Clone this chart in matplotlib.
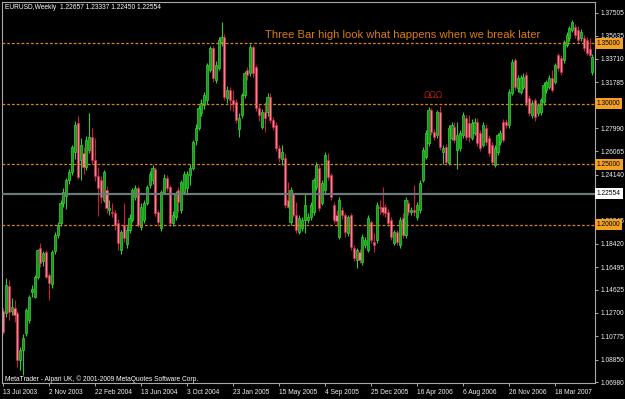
import matplotlib
matplotlib.use("Agg")
import matplotlib.pyplot as plt
import matplotlib.transforms as mtransforms
import numpy as np

plt.rcParams['font.family'] = ['Liberation Sans', 'DejaVu Sans']

# EURUSD weekly bars, 13 Jul 2003 .. Jun 2007
opens = [
    1.1286, 1.1270, 1.1495, 1.1285, 1.1310, 1.1270, 1.0881, 1.0960, 1.1104, 1.1212,
    1.1440, 1.1402, 1.1567, 1.1807, 1.1700, 1.1774, 1.1584, 1.1510, 1.1780, 1.1915,
    1.2014, 1.2179, 1.2240, 1.2369, 1.2436, 1.2600, 1.2841, 1.2535, 1.2593, 1.2477,
    1.2618, 1.2725, 1.2535, 1.2400, 1.2369, 1.2204, 1.2287, 1.2121, 1.2105, 1.2097,
    1.2014, 1.1791, 1.1997, 1.1840, 1.1956, 1.2039, 1.2229, 1.2303, 1.1981, 1.2039,
    1.2179, 1.2328, 1.2369, 1.2461, 1.2105, 1.1972, 1.2270, 1.2386, 1.2311, 1.2014,
    1.2063, 1.2287, 1.2121, 1.2270, 1.2300, 1.2410, 1.2469, 1.2700, 1.2799, 1.2923,
    1.2990, 1.3031, 1.3279, 1.3461, 1.3196, 1.3296, 1.3511, 1.3552, 1.3048, 1.3114,
    1.3031, 1.3014, 1.2790, 1.2907, 1.3072, 1.3279, 1.3254, 1.3469, 1.3304, 1.2965,
    1.2808, 1.2932, 1.2932, 1.3056, 1.2866, 1.2824, 1.2634, 1.2540, 1.2551, 1.2200,
    1.2022, 1.2250, 1.2080, 1.1939, 1.1972, 1.2039, 1.2039, 1.2063, 1.2105, 1.2311,
    1.2469, 1.2179, 1.2287, 1.2535, 1.2411, 1.2163, 1.2080, 1.1898, 1.2121, 1.2080,
    1.1931, 1.2080, 1.1807, 1.1708, 1.1774, 1.1691, 1.1830, 1.1791, 1.2022, 1.1857,
    1.1873, 1.2146, 1.2146, 1.2146, 1.2105, 1.2039, 1.1848, 1.1939, 1.1832, 1.2055,
    1.1915, 1.2179, 1.2105, 1.2121, 1.2063, 1.2121, 1.2369, 1.2560, 1.2675, 1.2948,
    1.2766, 1.2742, 1.2932, 1.2601, 1.2642, 1.2510, 1.2717, 1.2808, 1.2618, 1.2634,
    1.2742, 1.2882, 1.2841, 1.2717, 1.2758, 1.2849, 1.2758, 1.2659, 1.2799, 1.2717,
    1.2659, 1.2493, 1.2601, 1.2684, 1.2849, 1.2849, 1.2824, 1.3089, 1.3362, 1.3130,
    1.3097, 1.3138, 1.3238, 1.3048, 1.2907, 1.3031, 1.2923, 1.2932, 1.3014, 1.3114,
    1.3138, 1.3213, 1.3180, 1.3403, 1.3378, 1.3362, 1.3486, 1.3544, 1.3610, 1.3635,
    1.3610, 1.3544, 1.3544, 1.3527, 1.3450, 1.3263,
]
highs = [
    1.1311, 1.1557, 1.1540, 1.1395, 1.1375, 1.1290, 1.0990, 1.1100, 1.1310, 1.1420,
    1.1500, 1.1580, 1.1800, 1.1850, 1.1780, 1.1790, 1.1600, 1.1791, 1.1940, 1.2020,
    1.2200, 1.2300, 1.2390, 1.2460, 1.2660, 1.2860, 1.2898, 1.2720, 1.2640, 1.2730,
    1.2923, 1.2800, 1.2717, 1.2480, 1.2400, 1.2450, 1.2320, 1.2200, 1.2180, 1.2120,
    1.2050, 1.1960, 1.2179, 1.1990, 1.2090, 1.2300, 1.2330, 1.2320, 1.2180, 1.2200,
    1.2330, 1.2440, 1.2490, 1.2480, 1.2120, 1.2290, 1.2420, 1.2411, 1.2330, 1.2110,
    1.2280, 1.2310, 1.2370, 1.2440, 1.2440, 1.2500, 1.2700, 1.2830, 1.2990, 1.3040,
    1.3100, 1.3340, 1.3480, 1.3480, 1.3350, 1.3550, 1.3676, 1.3580, 1.3150, 1.3140,
    1.3110, 1.3040, 1.2920, 1.3090, 1.3270, 1.3300, 1.3490, 1.3486, 1.3320, 1.2990,
    1.2960, 1.3014, 1.3090, 1.3090, 1.2890, 1.2850, 1.2660, 1.2660, 1.2590, 1.2353,
    1.2310, 1.2270, 1.2190, 1.2080, 1.2060, 1.2262, 1.2100, 1.2190, 1.2390, 1.2520,
    1.2500, 1.2370, 1.2600, 1.2593, 1.2430, 1.2190, 1.2120, 1.2230, 1.2150, 1.2100,
    1.2080, 1.2100, 1.1830, 1.1810, 1.1800, 1.1920, 1.1900, 1.2080, 1.2040, 1.1931,
    1.2190, 1.2200, 1.2311, 1.2170, 1.2130, 1.2060, 1.1960, 1.1960, 1.2060, 1.2097,
    1.2230, 1.2200, 1.2150, 1.2328, 1.2190, 1.2370, 1.2640, 1.2780, 1.2975, 1.2965,
    1.2790, 1.2950, 1.2981, 1.2660, 1.2670, 1.2820, 1.2850, 1.2849, 1.2849, 1.2780,
    1.2930, 1.2910, 1.2907, 1.2870, 1.2880, 1.2880, 1.2780, 1.2850, 1.2830, 1.2740,
    1.2680, 1.2660, 1.2760, 1.2780, 1.2870, 1.2870, 1.3120, 1.3370, 1.3380, 1.3240,
    1.3240, 1.3250, 1.3260, 1.3070, 1.3030, 1.3050, 1.3010, 1.3050, 1.3180, 1.3200,
    1.3240, 1.3279, 1.3340, 1.3420, 1.3400, 1.3530, 1.3590, 1.3640, 1.3693, 1.3660,
    1.3640, 1.3620, 1.3570, 1.3550, 1.3544, 1.3410,
]
lows = [
    1.1096, 1.1240, 1.1212, 1.1250, 1.1195, 1.0825, 1.0800, 1.0757, 1.1080, 1.1190,
    1.1400, 1.1390, 1.1550, 1.1650, 1.1660, 1.1560, 1.1377, 1.1476, 1.1760, 1.1890,
    1.1990, 1.2150, 1.2130, 1.2340, 1.2410, 1.2540, 1.2380, 1.2369, 1.2420, 1.2450,
    1.2590, 1.2500, 1.2360, 1.2070, 1.2180, 1.2190, 1.2100, 1.2080, 1.2060, 1.1960,
    1.1791, 1.1760, 1.1860, 1.1810, 1.1930, 1.2020, 1.2200, 1.1980, 1.1960, 1.2010,
    1.2160, 1.2300, 1.2340, 1.2070, 1.1990, 1.1950, 1.2250, 1.2280, 1.1990, 1.1990,
    1.2040, 1.2105, 1.2100, 1.2250, 1.2260, 1.2330, 1.2450, 1.2660, 1.2780, 1.2900,
    1.2960, 1.3000, 1.3260, 1.3180, 1.3170, 1.3280, 1.3480, 1.3030, 1.3010, 1.2948,
    1.2940, 1.2840, 1.2725, 1.2880, 1.3050, 1.3200, 1.3230, 1.3220, 1.2940, 1.2860,
    1.2790, 1.2766, 1.2900, 1.2840, 1.2780, 1.2610, 1.2520, 1.2490, 1.2140, 1.2138,
    1.2000, 1.2060, 1.1930, 1.1920, 1.1950, 1.1931, 1.2010, 1.2040, 1.2080, 1.2290,
    1.2110, 1.2160, 1.2260, 1.2370, 1.2200, 1.2010, 1.1990, 1.1880, 1.2050, 1.1900,
    1.1910, 1.1790, 1.1700, 1.1642, 1.1680, 1.1670, 1.1810, 1.1770, 1.1850, 1.1774,
    1.1850, 1.2090, 1.2080, 1.2060, 1.1990, 1.1870, 1.1830, 1.1830, 1.1810, 1.1890,
    1.1890, 1.2080, 1.2080, 1.2070, 1.2040, 1.2100, 1.2350, 1.2540, 1.2650, 1.2740,
    1.2700, 1.2720, 1.2620, 1.2500, 1.2500, 1.2490, 1.2700, 1.2675, 1.2460, 1.2610,
    1.2720, 1.2700, 1.2684, 1.2700, 1.2740, 1.2650, 1.2610, 1.2640, 1.2660, 1.2570,
    1.2500, 1.2480, 1.2580, 1.2660, 1.2680, 1.2800, 1.2800, 1.3070, 1.3110, 1.3100,
    1.3080, 1.3120, 1.2980, 1.2900, 1.2880, 1.2860, 1.2900, 1.2910, 1.2990, 1.3090,
    1.3120, 1.3097, 1.3160, 1.3270, 1.3240, 1.3340, 1.3470, 1.3520, 1.3590, 1.3540,
    1.3500, 1.3520, 1.3440, 1.3400, 1.3387, 1.3240,
]
closes = [
    1.1112, 1.1500, 1.1280, 1.1320, 1.1255, 1.0880, 1.0960, 1.1060, 1.1294, 1.1402,
    1.1470, 1.1567, 1.1791, 1.1683, 1.1766, 1.1567, 1.1517, 1.1774, 1.1915, 1.1997,
    1.2179, 1.2270, 1.2369, 1.2436, 1.2642, 1.2824, 1.2394, 1.2659, 1.2477, 1.2700,
    1.2725, 1.2535, 1.2400, 1.2300, 1.2229, 1.2436, 1.2138, 1.2138, 1.2097, 1.1997,
    1.1848, 1.1939, 1.1890, 1.1956, 1.2055, 1.2287, 1.2303, 1.1997, 1.2146, 1.2179,
    1.2311, 1.2419, 1.2469, 1.2097, 1.2022, 1.2270, 1.2386, 1.2303, 1.2014, 1.2080,
    1.2262, 1.2187, 1.2353, 1.2419, 1.2420, 1.2469, 1.2684, 1.2799, 1.2965, 1.3006,
    1.3072, 1.3320, 1.3461, 1.3213, 1.3320, 1.3527, 1.3552, 1.3056, 1.3114, 1.3031,
    1.3000, 1.2866, 1.2880, 1.3072, 1.3254, 1.3238, 1.3469, 1.3250, 1.2965, 1.2907,
    1.2932, 1.2880, 1.3056, 1.2866, 1.2808, 1.2634, 1.2551, 1.2600, 1.2163, 1.2150,
    1.2287, 1.2080, 1.1956, 1.2055, 1.2039, 1.2163, 1.2063, 1.2163, 1.2369, 1.2493,
    1.2138, 1.2344, 1.2576, 1.2394, 1.2229, 1.2039, 1.2030, 1.2204, 1.2080, 1.1939,
    1.2063, 1.1815, 1.1724, 1.1791, 1.1708, 1.1898, 1.1870, 1.2055, 1.1873, 1.1832,
    1.2163, 1.2138, 1.2105, 1.2097, 1.2014, 1.1898, 1.1939, 1.1857, 1.2039, 1.1915,
    1.2204, 1.2105, 1.2121, 1.2105, 1.2163, 1.2344, 1.2618, 1.2758, 1.2948, 1.2766,
    1.2725, 1.2932, 1.2642, 1.2634, 1.2518, 1.2799, 1.2824, 1.2700, 1.2742, 1.2758,
    1.2907, 1.2725, 1.2725, 1.2841, 1.2849, 1.2675, 1.2634, 1.2824, 1.2684, 1.2593,
    1.2518, 1.2634, 1.2742, 1.2758, 1.2700, 1.2824, 1.3097, 1.3345, 1.3138, 1.3213,
    1.3213, 1.3221, 1.3006, 1.2923, 1.3006, 1.2890, 1.2990, 1.3031, 1.3155, 1.3180,
    1.3213, 1.3114, 1.3320, 1.3296, 1.3263, 1.3511, 1.3569, 1.3626, 1.3676, 1.3569,
    1.3527, 1.3593, 1.3461, 1.3420, 1.3400, 1.3387,
]

# time scale labels, one every 16 weekly bars
date_labels = ["13 Jul 2003", "2 Nov 2003", "22 Feb 2004", "13 Jun 2004", "3 Oct 2004",
               "23 Jan 2005", "15 May 2005", "4 Sep 2005", "25 Dec 2005", "16 Apr 2006",
               "6 Aug 2006", "26 Nov 2006", "18 Mar 2007"]
price_ticks = [1.37505, 1.35635, 1.33710, 1.31785, 1.29860, 1.27990, 1.26065, 1.24140,
               1.22270, 1.20345, 1.18420, 1.16495, 1.14625, 1.12700, 1.10775, 1.08850, 1.06980]
# scale labels hidden behind the price tags
hidden_ticks = [1.29860, 1.22270]

# horizontal lines drawn on the chart
level_prices = [1.35, 1.30, 1.25, 1.20]
level_labels = ["1.35000", "1.30000", "1.25000", "1.20000"]
bid = 1.22554
header = "EURUSD,Weekly  1.22657 1.23337 1.22450 1.22554"
note = "Three Bar high look what happens when we break later"
copyright_txt = "MetaTrader - Alpari UK, \u00a9 2001-2009 MetaQuotes Software Corp."

o = np.array(opens)
h = np.array(highs)
l = np.array(lows)
c = np.array(closes)
idx = np.arange(len(c))
up = c >= o

fig = plt.figure(figsize=(6.25, 3.99), dpi=100, facecolor='black')
ax = fig.add_axes([2 / 625, 16 / 399, 593 / 625, 381 / 399])
ax.set_facecolor('black')

# candles: wicks then bodies
ax.vlines(idx, l, h, colors=np.where(up, '#2fcf2f', '#c81e3c'), linewidth=0.8, zorder=2)
body_low = np.minimum(o, c)
body_h = np.maximum(np.abs(c - o), 0.0004)
ax.bar(idx, body_h, bottom=body_low, width=0.72,
       color=np.where(up, '#1c961c', '#f08596'),
       edgecolor=np.where(up, '#34d834', '#d42848'), linewidth=0.5, zorder=2)

# price lines
for lv in level_prices:
    ax.axhline(lv, color='#d4861a', lw=0.9, ls=(0, (2.2, 1.6)), zorder=3)
ax.axhline(bid, color='#6d7878', lw=1.6, zorder=3)

ax.set_xlim(-0.35, 205.9)
ax.set_ylim(1.0691, 1.3841)

for sp in ax.spines.values():
    sp.set_color('#a8a8a8')
    sp.set_linewidth(0.8)

ax.yaxis.tick_right()
ax.set_yticks(price_ticks)
ax.set_yticklabels(["" if v in hidden_ticks else f"{v:.5f}" for v in price_ticks])
ax.set_xticks(np.arange(len(date_labels)) * 16)
ax.set_xticklabels(date_labels)
for t in ax.get_xticklabels():
    t.set_ha('left')
ax.tick_params(axis='both', colors='#c8c8c8', labelcolor='#f0f0f0', labelsize=4.8,
               length=2.5, width=0.6, pad=1.5)

# price tags on the scale
tr = mtransforms.blended_transform_factory(ax.transAxes, ax.transData)
for lv, lab in zip(level_prices, level_labels):
    ax.text(1.003, lv, lab, transform=tr, ha='left', va='center', fontsize=4.8, color='black',
            bbox=dict(boxstyle='square,pad=0.3', fc='#f2a125', ec='none'), clip_on=False, zorder=6)
ax.text(1.003, bid, f"{bid:.5f}", transform=tr, ha='left', va='center', fontsize=4.8, color='black',
        bbox=dict(boxstyle='square,pad=0.3', fc='white', ec='none'), clip_on=False, zorder=6)

# three-bar high marker
ax.text(149.5, max(highs[148:153]) + 0.0085, "\u03a9\u03a9\u03a9", ha='center', va='center',
        fontsize=6, color='#b51616', family='DejaVu Sans', zorder=5)

fig.text(5 / 625, 1 - 7.5 / 399, header, color='white', fontsize=4.8, va='center')
fig.text(265 / 625, 1 - 35 / 399, note, color='#d97b0e', fontsize=8.1, va='center')
fig.text(5 / 625, 1 - 379.5 / 399, copyright_txt, color='white', fontsize=4.8, va='center')

fig.savefig('out.png', dpi=100, facecolor='black')
